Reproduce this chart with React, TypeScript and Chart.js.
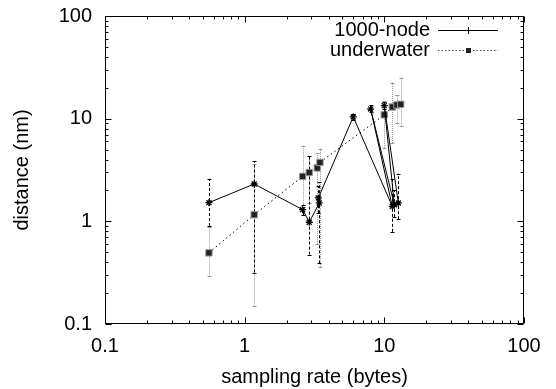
import React, { useEffect, useRef } from 'react';
import { Chart, registerables } from 'chart.js';

Chart.register(...registerables);

const xTickValues = [0.1, 1, 10, 100];
const yTickValues = [0.1, 1, 10, 100];

const nodeLabel = '1000-node';
const nodeX = [0.555, 1.17, 2.6, 2.9, 3.42, 3.37, 5.99, 11.4, 7.98, 11.8, 9.99, 12.6];
const nodeY = [1.52, 2.31, 1.3, 0.98, 1.51, 1.69, 10.4, 1.4, 12.4, 1.45, 13.4, 1.51];
const nodeLow = [0.9, 0.317, 1.15, 0.474, 0.39, 1.2, 9.6, 0.79, 11.5, 1.1, 12.5, 1.05];
const nodeHigh = [2.6, 3.83, 1.45, 4.29, 2.4, 2.2, 11.2, 2.6, 13.5, 2.0, 14.5, 2.9];

const waterLabel = 'underwater';
const waterX = [0.555, 1.17, 2.6, 2.9, 3.31, 3.46, 9.99, 11.4, 12.3, 13.1];
const waterY = [0.493, 1.16, 2.74, 2.99, 3.31, 3.75, 10.9, 13.0, 13.6, 13.8];
const waterLow = [0.296, 0.151, 1.45, 1.5, 0.6, 0.36, 5.2, 5.8, 9.0, 8.4];
const waterHigh = [0.882, 3.6, 5.45, 4.3, 4.6, 5.1, 14.7, 22.5, 17, 25];

const FONT = '"Liberation Sans", Arial, sans-serif';

const errorBarsPlugin = {
  id: 'errorBars',
  beforeDatasetsDraw(chart: any) {
    const ctx = chart.ctx;
    const xs = chart.scales.x;
    const ys = chart.scales.y;
    const sets = [
      { xv: waterX, lo: waterLow, hi: waterHigh, color: '#999', dash: [1, 1] },
      { xv: nodeX, lo: nodeLow, hi: nodeHigh, color: '#000', dash: [3, 2] },
    ];
    ctx.save();
    sets.forEach((s) => {
      ctx.strokeStyle = s.color;
      ctx.lineWidth = 1;
      s.xv.forEach((xv, i) => {
        const px = Math.round(xs.getPixelForValue(xv)) + 0.5;
        const p1 = ys.getPixelForValue(s.lo[i]);
        const p2 = ys.getPixelForValue(s.hi[i]);
        ctx.setLineDash(s.dash);
        ctx.beginPath();
        ctx.moveTo(px, p1);
        ctx.lineTo(px, p2);
        ctx.stroke();
        ctx.setLineDash([]);
        ctx.beginPath();
        ctx.moveTo(px - 2, Math.round(p1) + 0.5);
        ctx.lineTo(px + 2, Math.round(p1) + 0.5);
        ctx.moveTo(px - 2, Math.round(p2) + 0.5);
        ctx.lineTo(px + 2, Math.round(p2) + 0.5);
        ctx.stroke();
      });
    });
    ctx.restore();
  },
};

function minorValues(majors: number[]) {
  const out: number[] = [];
  for (let i = 0; i < majors.length - 1; i++) {
    for (let m = 2; m <= 9; m++) out.push(majors[i] * m);
  }
  return out;
}

const framePlugin = {
  id: 'frameTicks',
  afterDatasetsDraw(chart: any) {
    const ctx = chart.ctx;
    const { left, right, top, bottom } = chart.chartArea;
    const xs = chart.scales.x;
    const ys = chart.scales.y;
    ctx.save();
    ctx.strokeStyle = '#000';
    ctx.lineWidth = 1;
    ctx.setLineDash([]);
    const L = Math.round(left) + 0.5;
    const R = Math.round(right) - 0.5;
    const T = Math.round(top) + 0.5;
    const B = Math.round(bottom) - 0.5;
    ctx.beginPath();
    ctx.rect(L, T, R - L, B - T);
    ctx.stroke();
    ctx.beginPath();
    const xt = (v: number, len: number) => {
      const px = Math.round(xs.getPixelForValue(v)) + 0.5;
      ctx.moveTo(px, B);
      ctx.lineTo(px, B - len);
      ctx.moveTo(px, T);
      ctx.lineTo(px, T + len);
    };
    const yt = (v: number, len: number) => {
      const py = Math.round(ys.getPixelForValue(v)) + 0.5;
      ctx.moveTo(L, py);
      ctx.lineTo(L + len, py);
      ctx.moveTo(R, py);
      ctx.lineTo(R - len, py);
    };
    xTickValues.forEach((v) => xt(v, 6));
    minorValues(xTickValues).forEach((v) => xt(v, 3));
    yTickValues.forEach((v) => yt(v, 6));
    minorValues(yTickValues).forEach((v) => yt(v, 3));
    ctx.stroke();
    ctx.restore();
  },
};

const legendPlugin = {
  id: 'gnuLegend',
  afterDraw(chart: any) {
    const ctx = chart.ctx;
    const rows = [
      { text: nodeLabel, y: 30, dash: [] as number[], color: '#000', marker: 'plus' },
      { text: waterLabel, y: 50, dash: [1.5, 2], color: '#555', marker: 'box' },
    ];
    ctx.save();
    ctx.font = `20px ${FONT}`;
    ctx.fillStyle = '#000';
    ctx.textAlign = 'right';
    ctx.textBaseline = 'middle';
    rows.forEach((r) => {
      ctx.fillText(r.text, 430, r.y);
      ctx.strokeStyle = r.color;
      ctx.lineWidth = 1;
      ctx.setLineDash(r.dash);
      ctx.beginPath();
      ctx.moveTo(438, r.y + 0.5);
      ctx.lineTo(498, r.y + 0.5);
      ctx.stroke();
      ctx.setLineDash([]);
      ctx.strokeStyle = '#000';
      if (r.marker === 'plus') {
        ctx.beginPath();
        ctx.moveTo(465, r.y + 0.5);
        ctx.lineTo(471, r.y + 0.5);
        ctx.moveTo(468.5, r.y - 3);
        ctx.lineTo(468.5, r.y + 4);
        ctx.stroke();
      } else {
        ctx.fillStyle = '#222';
        ctx.fillRect(466, r.y - 2, 5, 5);
        ctx.fillStyle = '#000';
      }
    });
    ctx.restore();
  },
};

export default function App() {
  const canvasRef = useRef<HTMLCanvasElement | null>(null);

  useEffect(() => {
    if (!canvasRef.current) return;
    Chart.defaults.color = '#000';
    Chart.defaults.font.family = FONT;
    const chart = new Chart(canvasRef.current, {
      type: 'line',
      data: {
        datasets: [
          {
            label: nodeLabel,
            data: nodeX.map((x, i) => ({ x, y: nodeY[i] })),
            borderColor: '#000',
            borderWidth: 1,
            pointStyle: 'star',
            pointRadius: 3.5,
            pointBorderColor: '#000',
            pointBorderWidth: 1.3,
            pointBackgroundColor: '#000',
            tension: 0,
            fill: false,
          },
          {
            label: waterLabel,
            data: waterX.map((x, i) => ({ x, y: waterY[i] })),
            borderColor: '#000',
            borderWidth: 1,
            borderDash: [1.5, 3],
            pointStyle: 'rect',
            pointRadius: 4.5,
            pointBorderColor: '#999',
            pointBorderWidth: 1,
            pointBackgroundColor: '#222',
            tension: 0,
            fill: false,
          },
        ],
      },
      options: {
        animation: false,
        responsive: false,
        events: [],
        layout: { padding: { top: 16, right: 32, left: 0, bottom: 0 } },
        plugins: {
          legend: { display: false },
          tooltip: { enabled: false },
        },
        scales: {
          x: {
            type: 'logarithmic',
            min: 0.1,
            max: 100,
            grid: { display: false, drawTicks: false },
            border: { display: false },
            afterBuildTicks: (s: any) => {
              s.ticks = xTickValues.map((v) => ({ value: v }));
            },
            afterFit: (s: any) => {
              s.height = 65;
              s.paddingLeft = 0;
              s.paddingRight = 0;
            },
            ticks: {
              autoSkip: false,
              maxRotation: 0,
              minRotation: 0,
              padding: 10,
              font: { size: 20, family: FONT },
              color: '#000',
              callback: (v: any) => String(v),
            },
            title: {
              display: true,
              text: 'sampling rate (bytes)',
              font: { size: 20, family: FONT },
              color: '#000',
              padding: { top: 0, bottom: 0 },
            },
          },
          y: {
            type: 'logarithmic',
            min: 0.1,
            max: 100,
            grid: { display: false, drawTicks: false },
            border: { display: false },
            afterBuildTicks: (s: any) => {
              s.ticks = yTickValues.map((v) => ({ value: v }));
            },
            afterFit: (s: any) => {
              s.width = 105;
              s.paddingTop = 0;
              s.paddingBottom = 0;
            },
            ticks: {
              autoSkip: false,
              padding: 13,
              font: { size: 20, family: FONT },
              color: '#000',
              callback: (v: any) => String(v),
            },
            title: {
              display: true,
              text: 'distance (nm)',
              font: { size: 20, family: FONT },
              color: '#000',
              padding: { top: 10, bottom: 0 },
            },
          },
        },
      },
      plugins: [errorBarsPlugin, framePlugin, legendPlugin],
    } as any);
    return () => chart.destroy();
  }, []);

  return (
    <div style={{ position: 'absolute', left: 0, top: 0, width: 556, height: 389, background: '#fff' }}>
      <canvas ref={canvasRef} width={556} height={389} style={{ display: 'block' }} />
    </div>
  );
}
